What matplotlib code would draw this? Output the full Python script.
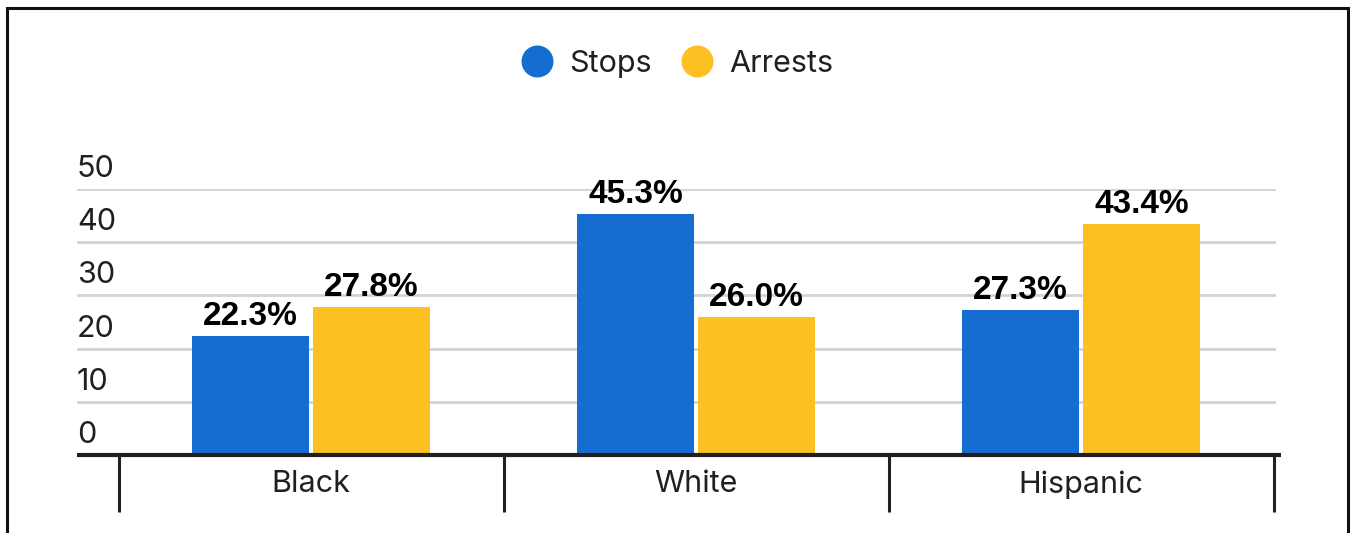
import matplotlib.pyplot as plt
import matplotlib.transforms as mtransforms
from matplotlib.lines import Line2D
from matplotlib.patches import Rectangle

categories = ['Black', 'White', 'Hispanic']
stops = [22.3, 45.3, 27.3]
arrests = [27.8, 26.0, 43.4]
series_names = ['Stops', 'Arrests']
yticks = [0, 10, 20, 30, 40, 50]

blue = '#166dd1'
yellow = '#fcc023'
ink = '#231f20'

plt.rcParams['font.family'] = ['Inter', 'DejaVu Sans']

fig = plt.figure(figsize=(13.51, 5.33), dpi=100)
ax = fig.add_axes([77 / 1351, 1 - 455 / 533, 1199 / 1351, 266 / 533])

x = list(range(len(categories)))
w = 0.303
off = 0.157
b1 = ax.bar([i - off for i in x], stops, width=w, color=blue, zorder=3)
b2 = ax.bar([i + off for i in x], arrests, width=w, color=yellow, zorder=3)

for bars, vals in [(b1, stops), (b2, arrests)]:
    for bar, v in zip(bars, vals):
        ax.annotate(f'{v:.1f}%', (bar.get_x() + bar.get_width() / 2, v),
                    xytext=(0, 3), textcoords='offset points',
                    ha='center', va='bottom', fontsize=24, fontweight='bold',
                    family=['Liberation Sans', 'DejaVu Sans'], color='black')

ax.set_xlim(-0.608, 2.506)
ax.set_ylim(0, 50)

# gridlines
for t in yticks:
    ax.axhline(t, color='#d3d3d3', lw=2, zorder=1)

# y tick labels, left aligned above each gridline
trans = mtransforms.offset_copy(ax.get_yaxis_transform(), fig=fig, x=0, y=6, units='dots')
for t in yticks:
    ax.text(0, t, str(t), transform=trans, ha='left', va='bottom',
            fontsize=22, color=ink)

# baseline and category separators
ax.plot([-0.608, 2.52], [0, 0], color=ink, lw=3, clip_on=False, zorder=4,
        solid_capstyle='butt')
ax.vlines([-0.5, 0.5, 1.5, 2.5], -10.8, 0, color=ink, lw=2.2, clip_on=False, zorder=4)

for i, c in enumerate(categories):
    ax.text(i, -5.5, c, ha='center', va='center', fontsize=22, color=ink)

ax.set_xticks([])
ax.set_yticks([])
for s in ax.spines.values():
    s.set_visible(False)

handles = [Line2D([], [], ls='none', marker='o', markersize=22, color=c)
           for c in (blue, yellow)]
fig.legend(handles, series_names, loc='center', bbox_to_anchor=(0.5015, 1 - 64 / 533),
           ncol=2, frameon=False, fontsize=22, handlelength=1.0, handletextpad=0.55,
           columnspacing=1.0, labelcolor=ink)

# outer frame
fig.patches.append(Rectangle((7 / 1351, -0.1), 1341 / 1351, 1.1 - 8 / 533,
                             transform=fig.transFigure, fill=False,
                             edgecolor='#111111', lw=2.2))

fig.savefig('out.png', dpi=100)
